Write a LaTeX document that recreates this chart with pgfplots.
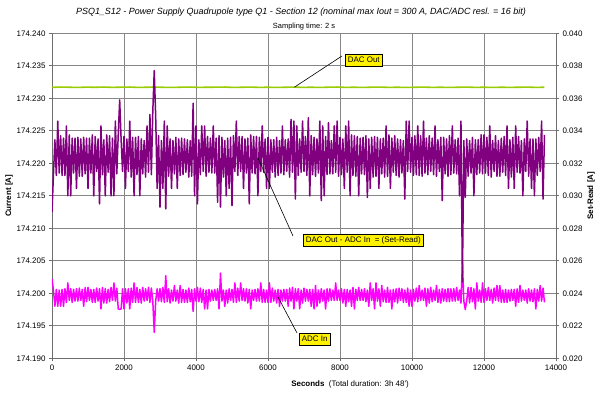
\documentclass[border=0pt]{standalone}
\usepackage{fontspec}
\setmainfont{Liberation Sans}
\usepackage{pgfplots}
\usepackage{pgfplotstable}
\pgfplotsset{compat=1.18}
\usetikzlibrary{calc}

\definecolor{dacgreen}{RGB}{153,204,0}
\definecolor{srpurple}{RGB}{128,0,128}
\definecolor{adcmag}{RGB}{255,0,255}
\definecolor{gridgray}{RGB}{134,134,134}
\definecolor{axgray}{RGB}{110,110,110}

\pgfplotstableread{
t sr adc
0 0.0290 174.2022
40 0.03130 174.2005
80 0.03345 174.1980
120 0.03125 174.2006
160 0.03460 174.1980
200 0.03140 174.2005
240 0.03370 174.1980
280 0.03125 174.2006
320 0.03355 174.1980
360 0.03125 174.2007
400 0.03430 174.1986
440 0.03000 174.2016
480 0.03375 174.1989
520 0.03000 174.2007
560 0.03355 174.1986
600 0.03140 174.2006
640 0.03355 174.1988
680 0.03045 174.2007
720 0.03360 174.1988
760 0.03120 174.2008
800 0.03350 174.1989
840 0.03120 174.2006
880 0.03360 174.1980
920 0.03135 174.2009
960 0.03355 174.1987
1000 0.03045 174.2009
1040 0.03355 174.1989
1080 0.03140 174.2006
1120 0.03375 174.1986
1160 0.03000 174.2006
1200 0.03365 174.1986
1240 0.03150 174.2008
1280 0.03350 174.1988
1320 0.0295 174.2007
1360 0.03430 174.1976
1400 0.03130 174.2009
1440 0.03345 174.1985
1480 0.03000 174.2007
1520 0.03375 174.1985
1560 0.03145 174.2006
1600 0.03370 174.1987
1640 0.03000 174.2009
1680 0.03355 174.1989
1720 0.03000 174.2016
1760 0.03460 174.1988
1800 0.03135 174.2008
1840 0.03375 174.1976
1880 0.0359 174.1975
1920 0.03345 174.1976
1960 0.03150 174.2007
2000 0.03365 174.1976
2040 0.03045 174.2007
2080 0.03350 174.1985
2120 0.03150 174.2007
2160 0.03460 174.1976
2200 0.03115 174.2008
2240 0.03360 174.1986
2280 0.03000 174.2016
2320 0.03360 174.1986
2360 0.03130 174.2009
2400 0.03365 174.1986
2440 0.03000 174.2006
2480 0.03350 174.1985
2520 0.03135 174.2009
2560 0.03340 174.1988
2600 0.03115 174.2007
2640 0.03430 174.1989
2680 0.03145 174.2009
2720 0.0350 174.1986
2760 0.03130 174.2008
2800 0.0352 174.1988
2840 0.0377 174.1940
2880 0.0349 174.1988
2920 0.03045 174.2007
2960 0.03370 174.1988
3000 0.0293 174.2007
3040 0.03340 174.1987
3080 0.03045 174.2009
3120 0.03460 174.1986
3160 0.0292 174.2027
3200 0.03430 174.1987
3240 0.03120 174.2007
3280 0.03350 174.1985
3320 0.03045 174.2005
3360 0.03340 174.1988
3400 0.03135 174.2012
3440 0.03360 174.1988
3480 0.03045 174.2005
3520 0.03350 174.1985
3560 0.03125 174.2012
3600 0.03355 174.1986
3640 0.03130 174.2006
3680 0.03350 174.1986
3720 0.03145 174.2005
3760 0.03345 174.1986
3800 0.03115 174.2008
3840 0.03340 174.1987
3880 0.03120 174.2006
3920 0.0357 174.1972
3960 0.03000 174.2007
4000 0.03430 174.1988
4040 0.0295 174.2009
4080 0.03345 174.1987
4120 0.03130 174.2008
4160 0.03430 174.1986
4200 0.03150 174.2006
4240 0.03430 174.1976
4280 0.03120 174.2005
4320 0.03365 174.1976
4360 0.03145 174.2006
4400 0.03355 174.1988
4440 0.03140 174.2005
4480 0.03430 174.1989
4520 0.03140 174.2006
4560 0.03355 174.1989
4600 0.0296 174.2007
4640 0.03370 174.1976
4680 0.0293 174.2031
4720 0.03360 174.1988
4760 0.03115 174.2005
4800 0.03340 174.1980
4840 0.03000 174.2005
4880 0.03355 174.1985
4920 0.03045 174.2007
4960 0.03360 174.1989
5000 0.0294 174.2006
5040 0.03370 174.1986
5080 0.03150 174.2016
5120 0.03460 174.1986
5160 0.03125 174.2008
5200 0.03365 174.1988
5240 0.03150 174.2016
5280 0.03365 174.1989
5320 0.03045 174.2007
5360 0.03350 174.1988
5400 0.03140 174.2007
5440 0.03355 174.1985
5480 0.0295 174.2006
5520 0.03375 174.1976
5560 0.03140 174.2005
5600 0.03365 174.1989
5640 0.03135 174.2006
5680 0.03365 174.1988
5720 0.03000 174.2007
5760 0.03360 174.1988
5800 0.03150 174.2016
5840 0.03430 174.1986
5880 0.03145 174.2006
5920 0.03350 174.1986
5960 0.03045 174.2005
6000 0.03360 174.1986
6040 0.03045 174.2016
6080 0.03345 174.1986
6120 0.03145 174.2008
6160 0.03345 174.1988
6200 0.03115 174.2005
6240 0.03360 174.1985
6280 0.03125 174.2006
6320 0.03340 174.1980
6360 0.03140 174.2005
6400 0.03430 174.1988
6440 0.03130 174.2006
6480 0.03345 174.1988
6520 0.03150 174.2006
6560 0.03350 174.1980
6600 0.03115 174.2008
6640 0.0347 174.1988
6680 0.03145 174.2009
6720 0.03460 174.1976
6760 0.0298 174.2007
6800 0.03430 174.1988
6840 0.03125 174.2007
6880 0.03350 174.1976
6920 0.03145 174.2005
6960 0.0346 174.1985
7000 0.03150 174.2008
7040 0.03365 174.1988
7080 0.03125 174.2006
7120 0.0348 174.1988
7160 0.03000 174.2006
7200 0.03370 174.1980
7240 0.03130 174.2006
7280 0.03360 174.1976
7320 0.03120 174.2012
7360 0.03350 174.1980
7400 0.03140 174.2005
7440 0.03460 174.1985
7480 0.0297 174.2007
7520 0.03430 174.1988
7560 0.03000 174.2005
7600 0.03365 174.1976
7640 0.03130 174.2007
7680 0.0345 174.1988
7720 0.03135 174.2007
7760 0.03340 174.1989
7800 0.03135 174.2005
7840 0.03430 174.1989
7880 0.03145 174.2016
7920 0.03460 174.1989
7960 0.03120 174.2005
8000 0.03360 174.1989
8040 0.03130 174.2007
8080 0.03350 174.1985
8120 0.03045 174.2006
8160 0.03430 174.1980
8200 0.03145 174.2006
8240 0.0346 174.1987
8280 0.03000 174.2005
8320 0.03375 174.1980
8360 0.03125 174.2009
8400 0.03370 174.1976
8440 0.03120 174.2006
8480 0.03365 174.1989
8520 0.03000 174.2009
8560 0.03355 174.1989
8600 0.03135 174.2006
8640 0.03360 174.1989
8680 0.03130 174.2007
8720 0.03370 174.1987
8760 0.0299 174.2005
8800 0.03350 174.1980
8840 0.03045 174.2016
8880 0.03360 174.1989
8920 0.03115 174.2007
8960 0.03365 174.1976
9000 0.03120 174.2016
9040 0.03360 174.1988
9080 0.03045 174.2007
9120 0.03350 174.1980
9160 0.03135 174.2012
9200 0.03355 174.1987
9240 0.03115 174.2005
9280 0.03430 174.1986
9320 0.03120 174.2009
9360 0.03375 174.1986
9400 0.03045 174.2005
9440 0.03355 174.1976
9480 0.03145 174.2006
9520 0.03370 174.1987
9560 0.03125 174.2007
9600 0.03350 174.1985
9640 0.03115 174.2008
9680 0.03345 174.1989
9720 0.03140 174.2007
9760 0.03340 174.1986
9800 0.0298 174.2005
9840 0.03460 174.1986
9880 0.03150 174.2008
9920 0.03460 174.1980
9960 0.03145 174.2005
10000 0.03360 174.1980
10040 0.03125 174.2006
10080 0.03370 174.1988
10120 0.03130 174.2008
10160 0.03430 174.1987
10200 0.03125 174.2012
10240 0.03370 174.1989
10280 0.03120 174.2005
10320 0.03460 174.1989
10360 0.03140 174.2008
10400 0.03355 174.1980
10440 0.03130 174.2007
10480 0.03370 174.1985
10520 0.03150 174.2009
10560 0.03355 174.1987
10600 0.03130 174.2005
10640 0.03430 174.1989
10680 0.03120 174.2012
10720 0.03345 174.1986
10760 0.03150 174.2006
10800 0.03360 174.1985
10840 0.0297 174.2007
10880 0.03360 174.1988
10920 0.03135 174.2006
10960 0.03350 174.1987
11000 0.03120 174.2007
11040 0.03370 174.1987
11080 0.03130 174.2007
11120 0.03430 174.1988
11160 0.03140 174.2007
11200 0.03345 174.1988
11240 0.03135 174.2009
11280 0.03355 174.1989
11320 0.03000 174.2005
11360 0.0346 174.1985
11400 0.0247 174.2048
11440 0.03340 174.1988
11480 0.0299 174.1975
11520 0.03350 174.1989
11560 0.03120 174.2009
11600 0.03340 174.1985
11640 0.03140 174.2009
11680 0.03360 174.1987
11720 0.03000 174.2007
11760 0.03345 174.1976
11800 0.03130 174.2016
11840 0.03345 174.1988
11880 0.03140 174.2005
11920 0.03375 174.1986
11960 0.03135 174.2016
12000 0.03375 174.1986
12040 0.03140 174.2007
12080 0.03360 174.1989
12120 0.03125 174.2009
12160 0.03430 174.1989
12200 0.03115 174.2006
12240 0.03340 174.1985
12280 0.03150 174.2008
12320 0.03370 174.1989
12360 0.03120 174.2012
12400 0.03340 174.1988
12440 0.03120 174.2012
12480 0.03355 174.1986
12520 0.03145 174.2005
12560 0.03365 174.1986
12600 0.03125 174.2006
12640 0.03430 174.1986
12680 0.03045 174.2005
12720 0.03345 174.1988
12760 0.03115 174.2006
12800 0.03360 174.1989
12840 0.03045 174.2006
12880 0.03430 174.1980
12920 0.03145 174.2007
12960 0.03365 174.1986
13000 0.03140 174.2012
13040 0.03340 174.1988
13080 0.03000 174.2005
13120 0.03350 174.1989
13160 0.03150 174.2005
13200 0.03460 174.1985
13240 0.03120 174.2007
13280 0.03350 174.1988
13320 0.03045 174.2005
13360 0.03350 174.1987
13400 0.03000 174.2007
13440 0.03350 174.1976
13480 0.03125 174.2006
13520 0.03360 174.1988
13560 0.03150 174.2012
13600 0.03460 174.1988
13640 0.0298 174.2008
13680 0.03375 174.1986
}\noisetab

\pgfplotstableread{
t dac
0 174.23168
240 174.23173
480 174.23170
720 174.23167
960 174.23172
1200 174.23169
1440 174.23173
1680 174.23168
1920 174.23171
2160 174.23173
2400 174.23167
2640 174.23170
2880 174.23172
3120 174.23169
3360 174.23167
3600 174.23171
3840 174.23173
4080 174.23168
4320 174.23170
4560 174.23171
4800 174.23173
5040 174.23167
5280 174.23170
5520 174.23172
5760 174.23168
6000 174.23170
6240 174.23167
6480 174.23170
6720 174.23172
6960 174.23168
7200 174.23170
7440 174.23167
7680 174.23171
7920 174.23173
8160 174.23168
8400 174.23170
8640 174.23167
8880 174.23171
9120 174.23172
9360 174.23168
9600 174.23170
9840 174.23167
10080 174.23170
10320 174.23172
10560 174.23168
10800 174.23170
11040 174.23167
11280 174.23170
11520 174.23172
11760 174.23168
12000 174.23170
12240 174.23167
12480 174.23170
12720 174.23168
12960 174.23170
13200 174.23172
13440 174.23168
13680 174.23170
}\dactab

\tikzset{callout/.style={draw=black, fill=yellow, line width=0.6bp, inner xsep=2.5bp, inner ysep=2.3bp,
  font=\fontsize{8}{9.6}\selectfont, text height=6bp, text depth=1.8bp}}

\begin{document}
\begin{tikzpicture}[font=\fontsize{8}{9.6}\selectfont]
\begin{axis}[
  name=ax,
  scale only axis, width=504bp, height=325bp,
  at={(0,0)}, anchor=south west,
  xmin=0, xmax=14000, ymin=174.19, ymax=174.24,
  scaled x ticks=false, scaled y ticks=false,
  axis x line*=bottom, axis y line*=left,
  axis line style={draw=axgray, line width=0.8bp},
  xtick={0,2000,4000,6000,8000,10000,12000,14000},
  xticklabels={0,2000,4000,6000,8000,10000,12000,14000},
  ytick={174.19,174.195,174.2,174.205,174.21,174.215,174.22,174.225,174.23,174.235,174.24},
  yticklabels={174.190,174.195,174.200,174.205,174.210,174.215,174.220,174.225,174.230,174.235,174.240},
  grid=major,
  major grid style={draw=gridgray, line width=0.7bp},
  tick align=outside,
  major tick length=3bp,
  tick style={draw=axgray, line width=0.7bp},
  ticklabel style={font=\fontsize{8}{9.6}\selectfont, text=black},
]
\addplot[dacgreen, line width=1.6bp, line join=round] table[x=t, y=dac]{\dactab};
\addplot[adcmag, line width=1.5bp, line join=round] table[x=t, y=adc]{\noisetab};
\coordinate (dacA) at (axis cs:6731,174.2317);
\coordinate (dacB) at (axis cs:8139,174.23582);
\coordinate (srA) at (axis cs:5722,174.22082);
\coordinate (srB) at (axis cs:6694,174.20882);
\coordinate (srC) at (axis cs:6972,174.20812);
\coordinate (adA) at (axis cs:6278,174.19943);
\coordinate (adB) at (axis cs:6806,174.19389);
\coordinate (adC) at (axis cs:6861,174.19289);
\end{axis}
\begin{axis}[
  scale only axis, width=504bp, height=325bp,
  at={(0,0)}, anchor=south west,
  xmin=0, xmax=14000, ymin=0.02, ymax=0.04,
  scaled x ticks=false, scaled y ticks=false,
  axis y line*=right, axis x line=none,
  axis line style={draw=axgray, line width=0.8bp},
  ytick={0.02,0.022,0.024,0.026,0.028,0.03,0.032,0.034,0.036,0.038,0.04},
  yticklabels={0.020,0.022,0.024,0.026,0.028,0.030,0.032,0.034,0.036,0.038,0.040},
  tick align=outside,
  major tick length=3bp,
  tick style={draw=axgray, line width=0.7bp},
  ticklabel style={font=\fontsize{8}{9.6}\selectfont, text=black},
]
\addplot[srpurple, line width=1.5bp, line join=round] table[x=t, y=sr]{\noisetab};
\end{axis}

% callouts
\node[callout, anchor=west] (dacbox) at (dacB) {DAC Out};
\draw[black, line width=0.6bp] (dacA) -- ([xshift=-3bp,yshift=-2bp]dacbox.north west);
\node[callout, anchor=west] (srbox) at (srC) {DAC Out - ADC In\ \ = (Set-Read)};
\draw[black, line width=0.6bp] (srA) -- (srB);
\node[callout, anchor=west] (adbox) at (adC) {ADC In};
\draw[black, line width=0.6bp] (adA) -- (adB);

% titles and labels
\node[anchor=base, font=\itshape\fontsize{9}{11}\selectfont] at ($(ax.north)+(-3bp,18.3bp)$)
  {PSQ1\_S12 - Power Supply Quadrupole type Q1 - Section 12 (nominal max Iout = 300 A, DAC/ADC resl. = 16 bit)};
\node[anchor=base, font=\fontsize{7.5}{9}\selectfont] at ($(ax.north)+(0,4.5bp)$) {Sampling time: 2 s};
\node[anchor=base, font=\fontsize{8}{9.6}\selectfont] at ($(ax.south west)+(298bp,-28.5bp)$)
  {\textbf{Seconds}\ \ (Total duration: 3h 48\textquotesingle)};
\node[rotate=90, font=\bfseries\fontsize{8}{9.6}\selectfont] at ($(ax.west)+(-43bp,0)$) {Current [A]};
\node[rotate=90, font=\bfseries\fontsize{8}{9.6}\selectfont] at ($(ax.east)+(35bp,0)$) {Set-Read [A]};

\pgfresetboundingbox
\path[use as bounding box] ($(ax.south west)+(-52bp,-35.7bp)$) rectangle ($(ax.north east)+(46bp,33.3bp)$);
\end{tikzpicture}
\end{document}
